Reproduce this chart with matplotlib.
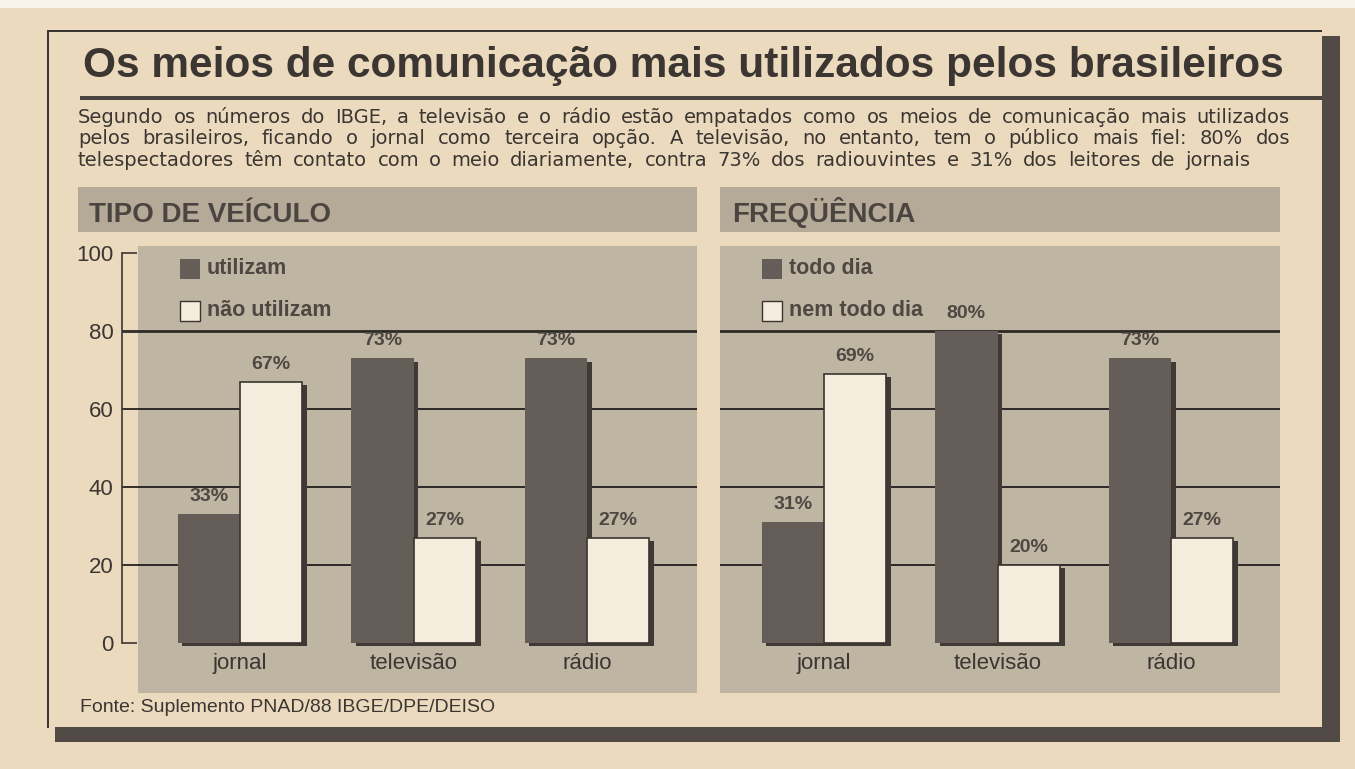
import matplotlib
matplotlib.use("Agg")
import matplotlib.pyplot as plt
import matplotlib.patheffects as pe
from matplotlib.patches import Rectangle
import numpy as np

# data
categories = ["jornal", "televisão", "rádio"]
utilizam = [33, 73, 73]
nao_utilizam = [67, 27, 27]
todo_dia = [31, 80, 73]
nem_todo_dia = [69, 20, 27]
yticks = [0, 20, 40, 60, 80, 100]

title = "Os meios de comunicação mais utilizados pelos brasileiros"
lead = ["Segundo os números do IBGE, a televisão e o rádio estão empatados como os meios de comunicação mais utilizados",
        "pelos brasileiros, ficando o jornal como terceira opção. A televisão, no entanto, tem o público mais fiel: 80% dos",
        "telespectadores têm contato com o meio diariamente, contra 73% dos radiouvintes e 31% dos leitores de jornais"]
lead_end = [1290, 1290, 1250]   # right edge of each printed line
source = "Fonte: Suplemento PNAD/88 IBGE/DPE/DEISO"

PAPER = "#ecdabe"
BAND = "#b5aa98"
PANEL = "#bfb5a3"
DARK = "#655e58"
LIGHT = "#f4ecdc"
INK = "#3b3632"
GREY_TXT = "#4e4842"
SHADOW = "#524b45"

W, H = 1355, 769
fig = plt.figure(figsize=(W / 100, H / 100), dpi=100, facecolor=PAPER)
plt.rcParams["font.family"] = ["Liberation Sans", "DejaVu Sans"]
renderer = fig.canvas.get_renderer()


def box(x0, y0, x1, y1, **kw):
    # rectangle in pixel coords (top-left origin)
    fig.patches.append(Rectangle((x0 / W, 1 - y1 / H), (x1 - x0) / W, (y1 - y0) / H,
                                 transform=fig.transFigure, **kw))


def ftext(x, y, s, **kw):
    return fig.text(x / W, 1 - y / H, s, **kw)


def justify(x0, x1, y, line, **kw):
    # spread the words of one line between x0 and x1 like the printed column
    words = line.split(" ")
    ts = [ftext(0, y, w, **kw) for w in words]
    widths = [t.get_window_extent(renderer).width for t in ts]
    gap = (x1 - x0 - sum(widths)) / (len(words) - 1)
    x = x0
    for t, w in zip(ts, widths):
        t.set_x(x / W)
        x += w + gap


# white torn strip at top
box(0, 0, W, 8, color="#f7f2ea", lw=0)
# frame + heavy shadow
box(47, 30, 1322, 31.5, color=INK, lw=0)
box(47, 30, 48.5, 728, color=INK, lw=0)
box(1322, 36, 1340, 742, color=SHADOW, lw=0)
box(55, 727, 1340, 742, color=SHADOW, lw=0)

ftext(83, 66, title, fontsize=30.5, fontweight="bold", color=INK, va="center")
box(80, 96, 1322, 100, color="#4a4440", lw=0)

for i, line in enumerate(lead):
    justify(78, lead_end[i], 123 + i * 21.5, line, fontsize=14, color=INK, va="baseline",
            family=["DejaVu Sans"])

# header bands
box(78, 187, 697, 232, color=BAND, lw=0)
box(720, 187, 1280, 232, color=BAND, lw=0)
ftext(89, 222, "TIPO DE VEÍCULO", fontsize=20, fontweight="bold", color="#4a4540", va="baseline")
ftext(732, 222, "FREQÜÊNCIA", fontsize=20, fontweight="bold", color="#4a4540", va="baseline")

px_unit = 3.9        # pixels per percent
y0_px = 643          # pixel row of value 0
grp_px = 173.5       # pixels between groups
bw = 0.36
shadow = [pe.withSimplePatchShadow(offset=(3.5, -2.5), shadow_rgbFace="#3f3a36", alpha=1)]


def panel(x_left, x_panel, x_right, first_center, dark, light, labels, show_axis):
    top, bottom = 246, 693
    ax = fig.add_axes([x_left / W, 1 - bottom / H, (x_right - x_left) / W, (bottom - top) / H])
    ax.set_facecolor("none")
    ax.set_xlim((x_left - first_center) / grp_px, (x_right - first_center) / grp_px)
    ax.set_ylim((y0_px - bottom) / px_unit, (y0_px - top) / px_unit)
    ylo, yhi = ax.get_ylim()
    ax.add_patch(Rectangle(((x_panel - x_left) / (x_right - x_left), 0), 1, 1,
                           transform=ax.transAxes, color=PANEL, lw=0, zorder=0))
    for v in yticks[1:-1]:
        ax.axhline(v, color="#2d2926", lw=2.0 if v == 80 else 1.4, zorder=1)
    x = np.arange(len(categories))
    b1 = ax.bar(x - bw / 2, dark, bw, color=DARK, lw=0, zorder=3)
    b2 = ax.bar(x + bw / 2, light, bw, color=LIGHT, edgecolor="#3a3531", lw=1.2, zorder=3)
    for b in list(b1) + list(b2):
        b.set_path_effects(shadow)
    for i in x:
        ax.text(i - bw / 2, dark[i] + 4.5, f"{dark[i]}%", ha="center", va="center",
                fontsize=14, fontweight="bold", color=GREY_TXT, zorder=4)
        ax.text(i + bw / 2, light[i] + 4.5, f"{light[i]}%", ha="center", va="center",
                fontsize=14, fontweight="bold", color=GREY_TXT, zorder=4)
        ax.text(i, -5.3, categories[i], ha="center", va="center", fontsize=16, color=INK)
    # legend
    lx = (x_panel + 42 - x_left) / (x_right - x_left)
    for k, (c, lab) in enumerate(zip([DARK, LIGHT], labels)):
        yv = 96 - 10.8 * k
        ax.add_patch(Rectangle((lx, (yv - 2.6 - ylo) / (yhi - ylo)),
                               20 / (x_right - x_left), 20 / (bottom - top), transform=ax.transAxes,
                               facecolor=c, edgecolor="#3a3531", lw=1 if k else 0, zorder=4))
        ax.text(lx + 27 / (x_right - x_left), yv, lab, transform=ax.get_yaxis_transform(),
                va="center", fontsize=15.5, fontweight="bold", color=GREY_TXT, zorder=4)
    for s in ["top", "right", "bottom"]:
        ax.spines[s].set_visible(False)
    ax.set_xticks([])
    if show_axis:
        ax.spines["left"].set_bounds(0, 100)
        ax.spines["left"].set_color(INK)
        ax.spines["left"].set_linewidth(1.2)
        ax.set_yticks(yticks)
        ax.tick_params(axis="y", direction="in", length=11, width=1.2, color=INK,
                       pad=6, labelsize=16, labelcolor=INK)
    else:
        ax.spines["left"].set_visible(False)
        ax.set_yticks([])
    return ax


panel(122, 138, 697, 240, utilizam, nao_utilizam, ["utilizam", "não utilizam"], True)
panel(720, 720, 1280, 824, todo_dia, nem_todo_dia, ["todo dia", "nem todo dia"], False)

ftext(80, 708, source, fontsize=14, color=INK, va="center")

fig.savefig("out.png", dpi=100, facecolor=PAPER)
